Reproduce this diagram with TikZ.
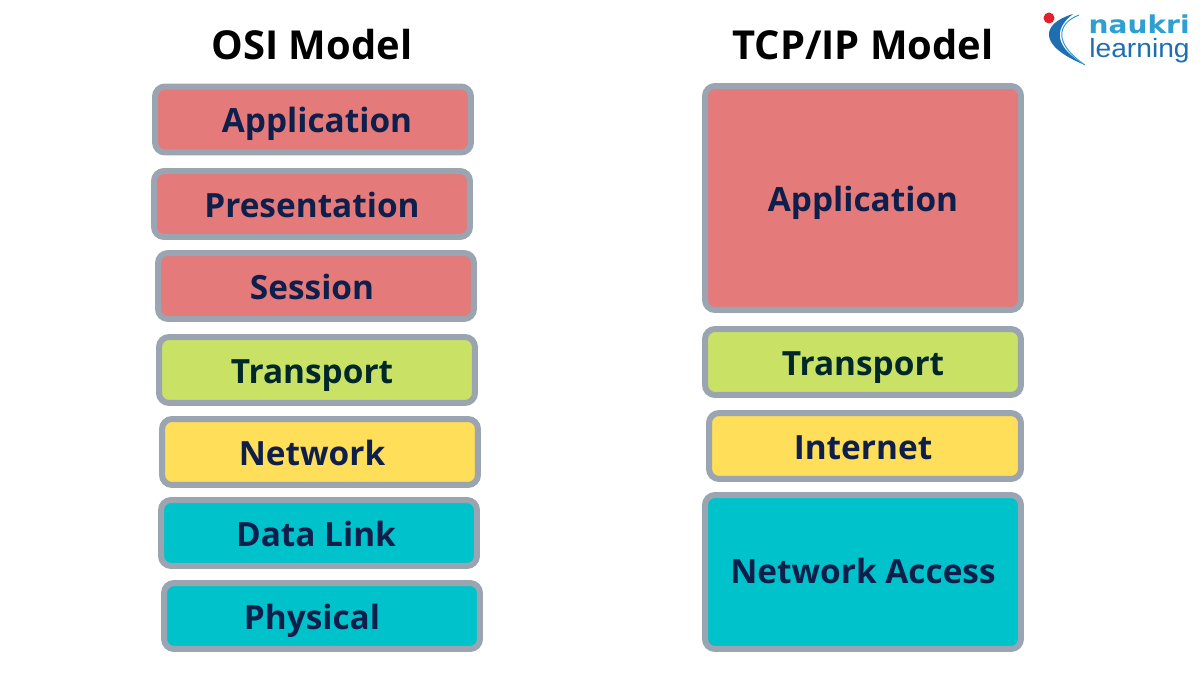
\documentclass[tikz,border=0pt]{standalone}
\usepackage{fontspec}
\setmainfont{Open Sans}
\newfontfamily\logofont[FakeStretch=1.07]{Liberation Sans}
\newfontfamily\logoheavy[FakeStretch=1.14]{DejaVu Sans}
\definecolor{layerred}{HTML}{E47A7A}
\definecolor{layergreen}{HTML}{C9E265}
\definecolor{layeryellow}{HTML}{FFDE59}
\definecolor{layerteal}{HTML}{00C2CB}
\definecolor{layerrim}{HTML}{9AA5B1}
\definecolor{layerink}{HTML}{0F1F4B}
\definecolor{logoblue}{HTML}{1F6FB0}
\definecolor{logosky}{HTML}{2F9FD2}
\definecolor{logored}{HTML}{E5202E}
\usetikzlibrary{positioning}
\tikzset{
  layerbox/.style={draw=layerrim,line width=0.12cm,rounded corners=0.2cm,minimum width=6.32cm,minimum height=1.32cm,inner sep=0pt,text=layerink,font=\fontsize{19}{23}\selectfont\bfseries,text height=0.66cm,text depth=0.12cm},
  modeltitle/.style={font=\fontsize{22.7}{27}\selectfont\bfseries,text=black}
}
\begin{document}
\begin{tikzpicture}[x=0.02cm,y=-0.02cm]
  \useasboundingbox (0,0) rectangle (1200,675);
  % left stack
  \node[modeltitle] (osititle) at (312,45) {OSI Model};
  \node[layerbox,fill=layerred] (osiapp) at (313,119.5) {\hspace{0.16cm}Application};
  \node[layerbox,fill=layerred] (osipres) at (312,204) {Presentation};
  \node[layerbox,fill=layerred] (osisess) at (316,286) {\hspace{-0.16cm}Session};
  \node[layerbox,fill=layergreen,text=black!80!layerteal] (ositrans) at (317,370) {\hspace{-0.2cm}Transport};
  \node[layerbox,fill=layeryellow] (osinet) at (320,452) {\hspace{-0.32cm}Network};
  \node[layerbox,fill=layerteal] (osilink) at (319,533) {\hspace{-0.12cm}Data Link};
  \node[layerbox,fill=layerteal] (osiphys) at (322,616) {\hspace{-0.4cm}Physical};
  % right stack
  \node[modeltitle] (tcptitle) at (863,45) {TCP/IP Model};
  \node[layerbox,fill=layerred,minimum height=4.48cm] (tcpapp) at (863,198) {Application};
  \node[layerbox,fill=layergreen,text=black!80!layerteal] (tcptrans) at (863,362) {Transport};
  \node[layerbox,fill=layeryellow,minimum width=6.24cm] (tcpint) at (865,446) {\hspace{-0.08cm}Internet};
  \node[layerbox,fill=layerteal,minimum height=3.08cm,text height=0.6cm] (tcpacc) at (863,572) {Network Access};
  % logo
  \fill[logored] (1049,18) circle (5.5);
  \fill[logoblue] (1073,14) .. controls (1040,24) and (1038,46) .. (1085,65) .. controls (1056,48) and (1052,30) .. (1073,14) -- cycle;
  \draw[logosky,line width=0.02cm] (1079,15) .. controls (1056,24) and (1054,44) .. (1085,65);
  \node[font=\logoheavy\fontsize{14}{15}\selectfont\bfseries,text=logosky,inner sep=0pt,anchor=base east] (logotop) at (1190,33.5) {naukri};
  \node[font=\logofont\fontsize{15}{16}\selectfont,text=logoblue,inner sep=0pt,anchor=base east] (logobottom) at (1190,57.5) {learning};
\end{tikzpicture}
\end{document}
